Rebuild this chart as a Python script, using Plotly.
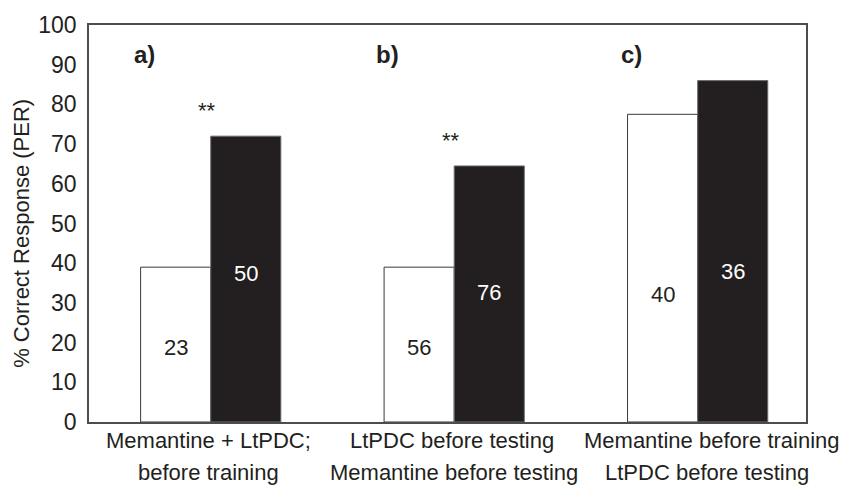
import plotly.graph_objects as go

# ---- data ----
groups = [0, 1, 2]
line1 = ["Memantine + LtPDC;", "LtPDC before testing", "Memantine before training"]
line2 = ["before training", "Memantine before testing", "LtPDC before testing"]
panel = ["a)", "b)", "c)"]
white_vals = [39.0, 39.0, 77.5]
black_vals = [72.0, 64.5, 86.0]
white_n = ["23", "56", "40"]
black_n = ["50", "76", "36"]
signif = ["**", "**", ""]
y_ticks = [0, 10, 20, 30, 40, 50, 60, 70, 80, 90, 100]
y_title = "% Correct Response (PER)"

# label heights inside bars (axis units)
white_n_y = [18.8, 18.8, 32.0]
black_n_y = [37.3, 32.5, 38.0]
# horizontal nudge of category labels (px)
line1_shift = [-2, -2, 14]
line2_shift = [-2, 0, 9]

INK = "#231f20"
FRAME = "#4d4d4f"
FONT = "Liberation Sans, Arial, sans-serif"

fig = go.Figure()
fig.add_trace(go.Bar(x=groups, y=white_vals, marker=dict(color="white", line=dict(color="#3a3a3a", width=1)),
                     showlegend=False, hoverinfo="skip"))
fig.add_trace(go.Bar(x=groups, y=black_vals, marker=dict(color=INK, line=dict(color="#6d6e71", width=1)),
                     showlegend=False, hoverinfo="skip"))

bw = 0.288
ann = []
for i in range(3):
    ann.append(dict(x=groups[i] - bw / 2, y=white_n_y[i], text=white_n[i], showarrow=False,
                    font=dict(size=22, color=INK, family=FONT), xref="x", yref="y"))
    ann.append(dict(x=groups[i] + bw / 2, y=black_n_y[i], text=black_n[i], showarrow=False,
                    font=dict(size=22, color="white", family=FONT), xref="x", yref="y"))
    ann.append(dict(x=groups[i] - 0.272, y=92.6, text="<b>" + panel[i] + "</b>", showarrow=False,
                    font=dict(size=24, color=INK, family=FONT), xref="x", yref="y"))
    if signif[i]:
        ann.append(dict(x=groups[i] - 0.015, y=black_vals[i] + 6.5, text=signif[i], showarrow=False,
                        font=dict(size=22, color=INK, family=FONT), xref="x", yref="y"))
    ann.append(dict(x=groups[i], y=0, text=line1[i], showarrow=False, yanchor="middle", yshift=-18,
                    xshift=line1_shift[i],
                    font=dict(size=22, color=INK, family=FONT), xref="x", yref="paper"))
    ann.append(dict(x=groups[i], y=0, text=line2[i], showarrow=False, yanchor="middle", yshift=-50,
                    xshift=line2_shift[i],
                    font=dict(size=22, color=INK, family=FONT), xref="x", yref="paper"))

ann.append(dict(x=0, y=0.474, xref="paper", yref="paper", xanchor="center", yanchor="middle",
                xshift=-67, text=y_title, textangle=-90, showarrow=False,
                font=dict(size=22, color=INK, family=FONT)))

fig.update_layout(
    width=843, height=501,
    margin=dict(l=89, r=37, t=19, b=79),
    paper_bgcolor="white", plot_bgcolor="white",
    barmode="group", bargap=0.424, bargroupgap=0,
    annotations=ann,
    font=dict(family=FONT, color=INK),
)
fig.update_xaxes(range=[-0.5, 2.445], showticklabels=False, ticks="", showgrid=False, zeroline=False,
                 showline=True, mirror=True, linecolor=FRAME, linewidth=1.5)
fig.update_yaxes(range=[0, 100], tickvals=y_ticks, ticks="", showgrid=False, zeroline=False,
                 showline=True, mirror=True, linecolor=FRAME, linewidth=1.5,
                 tickfont=dict(size=23, color=INK, family=FONT), ticklabelstandoff=6)

fig.write_html("out.html")
